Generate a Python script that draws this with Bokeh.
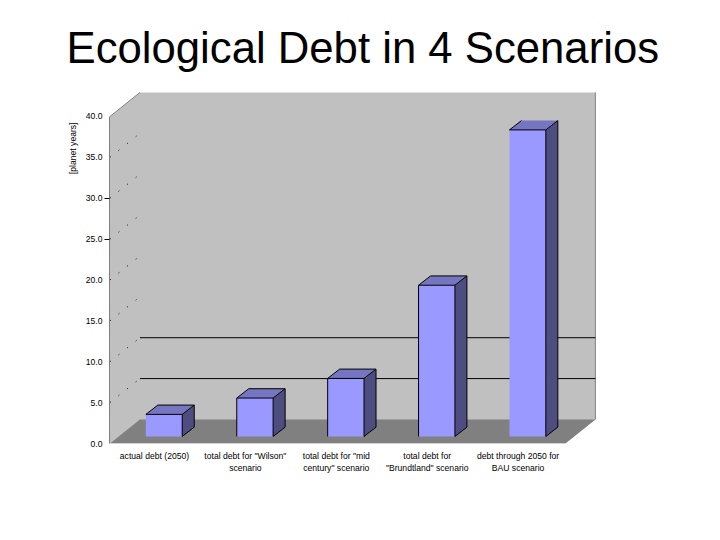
import math
from bokeh.plotting import figure
from bokeh.models import LinearAxis, FixedTicker, PrintfTickFormatter, Range1d, Title
from bokeh.embed import file_html
from bokeh.resources import INLINE

title_text = "Ecological Debt in 4 Scenarios"
y_title = "[planet years]"
categories = ['actual debt (2050)', 'total debt for "Wilson"\nscenario', 'total debt for "mid\ncentury" scenario',
              'total debt for\n"Brundtland" scenario', 'debt through 2050 for\nBAU scenario']
values = [2.7, 4.7, 7.1, 18.5, 37.5]
y_ticks = [0, 5, 10, 15, 20, 25, 30, 35, 40]
marked_ticks = [25, 30]
grid_levels = [5, 10]
dotted_levels = [5, 10, 15, 20, 25, 30, 35]
left_edged = [1, 2, 3]
back_edged = [0, 1, 2, 3]

FRONT, TOP, SIDE = "#9999FF", "#7575C2", "#4D4D80"
WALL, FLOOR, EDGE = "#C0C0C0", "#808080", "#808080"

DX, DY = 0.33, 2.94          # wall depth
XL, XR = -0.49, 4.52         # front floor edge
BASE = 0.86                  # bars stand on the floor
OFF, HW, BDX, BDY = 0.105, 0.2, 0.132, 1.14

p = figure(width=712, height=532, output_backend="svg", toolbar_location=None,
           x_axis_type=None, y_axis_type=None,
           x_range=Range1d(-0.495, 4.8625), y_range=Range1d(0, 43.18),
           min_border_left=109, min_border_right=116, min_border_top=90, min_border_bottom=89,
           outline_line_color=None, background_fill_color="white", border_fill_color="white")
p.grid.visible = False

t = Title(text=title_text, text_font="Liberation Sans", text_font_size="43.7px", text_font_style="normal",
          text_color="black", align="left", offset=-43, standoff=37)
p.add_layout(t, "above")

# walls and floor
p.patch([XL, XL + DX, XR + DX, XR + DX, XR, XL], [40, 40 + DY, 40 + DY, DY, 0, 0], color=WALL, line_color=None)
p.patch([XL, XL + DX, XR + DX, XR], [0, DY, DY, 0], color=FLOOR, line_color=None)
p.multi_line([[XL, XL + DX], [XR + DX, XR + DX]], [[40, 40 + DY], [40 + DY, DY]], line_color=EDGE, line_width=1)

# gridlines on the back wall and dotted side wall lines
p.multi_line([[XL + DX, XR + DX] for _ in grid_levels], [[g + DY, g + DY] for g in grid_levels],
             line_color="black", line_width=1)
p.multi_line([[XL, XL + DX] for _ in dotted_levels], [[d, d + DY] for d in dotted_levels],
             line_color="black", line_width=1, line_dash="1 10")

# bars
for i, v in enumerate(values):
    l, r, b, h = i + OFF - HW, i + OFF + HW, BASE, BASE + v
    p.patch([l, r, r, l], [b, b, h, h], color=FRONT, line_color=None)
    p.patch([l, r, r + BDX, l + BDX], [h, h, h + BDY, h + BDY], color=TOP, line_color=None)
    p.patch([r, r + BDX, r + BDX, r], [b, b + BDY, h + BDY, h], color=SIDE, line_color=None)
    xs = [[l, r, r], [r, r + BDX, r + BDX, r + BDX], [l, l + BDX], [r, r + BDX]]
    ys = [[h, h, b], [b, b + BDY, h + BDY, h + BDY], [h, h + BDY], [h, h + BDY]]
    if i in left_edged:
        xs.append([l, l]); ys.append([b, h])
    if i in back_edged:
        xs.append([l + BDX, r + BDX]); ys.append([h + BDY, h + BDY])
    p.multi_line(xs, ys, line_color="black", line_width=1)

# axes
tick_axis = LinearAxis(ticker=FixedTicker(ticks=marked_ticks), bounds=(0, 40), axis_line_color=EDGE,
                       major_tick_line_color="black", major_tick_in=0, major_tick_out=5, minor_tick_line_color=None,
                       major_label_text_font_size="0px", major_label_text_color=None, major_label_standoff=0)
p.add_layout(tick_axis, "left")
label_axis = LinearAxis(ticker=FixedTicker(ticks=y_ticks), axis_line_color=None, major_tick_line_color=None,
                        major_tick_in=0, major_tick_out=0, minor_tick_line_color=None, major_label_standoff=2,
                        formatter=PrintfTickFormatter(format="%.1f"), major_label_text_font="Liberation Sans",
                        major_label_text_font_size="8.6px", major_label_text_color="black")
p.add_layout(label_axis, "left")
x_axis = LinearAxis(ticker=FixedTicker(ticks=list(range(len(categories)))),
                    major_label_overrides={i: c for i, c in enumerate(categories)},
                    axis_line_color=None, major_tick_line_color=None, minor_tick_line_color=None,
                    major_tick_in=0, major_tick_out=0, major_label_standoff=7,
                    major_label_text_font="Liberation Sans", major_label_text_font_size="8.6px",
                    major_label_text_color="black")
p.add_layout(x_axis, "below")

y_t = Title(text=y_title, text_font="Liberation Sans", text_font_size="8.6px", text_font_style="normal",
            text_color="black", align="right", offset=32, standoff=9)
p.add_layout(y_t, "left")

open("out.html", "w").write(file_html(p, INLINE))
